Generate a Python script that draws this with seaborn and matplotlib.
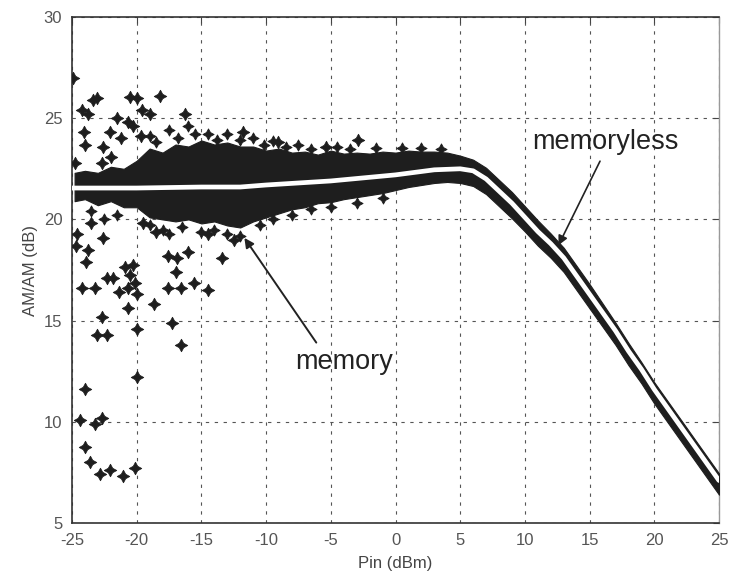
import matplotlib
matplotlib.use("Agg")
import matplotlib.pyplot as plt
import seaborn as sns
import pandas as pd

# ---------------- data ----------------
x_ticks = [-25, -20, -15, -10, -5, 0, 5, 10, 15, 20, 25]
y_ticks = [5, 10, 15, 20, 25, 30]

# memoryless model curve (white line)
ml_pin = [-25, -20, -15, -12, -10, -5, 0, 3, 5, 6, 7, 8, 9, 10, 11, 12, 13, 14,
          15, 16, 17, 18, 19, 20, 21, 22, 23, 24, 25]
ml_gain = [21.55, 21.55, 21.6, 21.6, 21.7, 21.9, 22.2, 22.45, 22.5, 22.4, 22.0,
           21.4, 20.8, 20.1, 19.4, 18.8, 18.1, 17.2, 16.3, 15.4, 14.5, 13.5,
           12.6, 11.6, 10.7, 9.8, 8.9, 8.0, 7.1]

# dense cloud of memory samples: upper / lower envelope
band_pin = [-24.8, -24, -23, -22, -21, -20, -19, -18, -17, -16, -15, -14, -13,
            -12, -11, -10, -9, -8, -7, -6, -5, -4, -3, -2, -1, 0, 1, 2, 3, 4,
            5, 6, 7, 8, 9, 10, 11, 12, 13, 14, 15, 16, 17, 18, 19, 20, 21, 22,
            23, 24, 25]
band_upper = [22.3, 22.4, 22.3, 22.6, 22.5, 22.9, 23.5, 23.3, 23.7, 23.6, 23.9,
              23.7, 23.8, 23.6, 23.6, 23.4, 23.5, 23.3, 23.35, 23.2, 23.4,
              23.25, 23.3, 23.25, 23.35, 23.3, 23.4, 23.35, 23.35, 23.3, 23.15,
              22.95, 22.55, 21.95, 21.35, 20.65, 19.95, 19.3, 18.6, 17.7, 16.8,
              15.85, 14.9, 13.9, 12.95, 11.95, 11.05, 10.15, 9.25, 8.35, 7.45]
band_lower = [20.9, 21.0, 20.7, 20.9, 20.6, 20.6, 20.1, 20.0, 19.9, 20.0, 19.8,
              19.9, 19.7, 19.6, 19.9, 20.1, 20.3, 20.5, 20.6, 20.8, 20.85, 21.0,
              21.1, 21.2, 21.3, 21.45, 21.6, 21.7, 21.8, 21.85, 21.8, 21.65,
              21.25, 20.65, 20.05, 19.4, 18.7, 18.1, 17.4, 16.5, 15.6, 14.7,
              13.8, 12.8, 11.9, 10.9, 10.0, 9.1, 8.2, 7.3, 6.4]

# scattered memory samples (outliers)
out_pin = [-24.9, -23.4, -23.1, -20.5, -20.0, -18.2, -24.2, -23.8, -21.5,
           -20.7, -19.6, -19.0, -16.3, -24.1, -24.0, -22.1, -22.6, -24.8,
           -22.0, -22.7, -21.2, -20.3, -19.7,
           -24.6, -24.7, -23.8, -23.9, -23.5, -22.6, -24.2, -23.2, -22.3,
           -21.8, -21.4, -20.7, -22.7, -23.1, -22.3, -20.7, -20.0, -20.9,
           -20.3, -20.5, -20.1, -20.0, -20.0, -24.0, -24.4, -22.7, -23.2,
           -24.0, -23.6, -22.8, -22.1, -21.05, -20.1, -18.7, -17.6, -16.6,
           -15.6, -14.5, -17.0, -17.3, -16.6, -13.4, -17.6, -16.9, -16.0,
           -11.8, -9.1, -5.4, -2.9, -14.5, -12.5, -18.5, -19.5]
out_gain = [27.0, 25.9, 26.0, 26.05, 26.0, 26.1, 25.4, 25.2, 25.0, 24.8, 25.4,
            25.2, 25.2, 24.3, 23.7, 24.3, 23.6, 22.8, 23.1, 22.8, 24.0, 24.6,
            24.1,
            19.3, 18.7, 18.5, 17.9, 19.8, 19.1, 16.6, 16.6, 17.1, 17.1, 16.4,
            16.6, 15.2, 14.3, 14.3, 15.6, 14.6, 17.65, 17.75, 17.25, 16.85,
            16.3, 12.2, 11.6, 10.1, 10.2, 9.9, 8.75, 8.0, 7.4, 7.6, 7.3, 7.7,
            15.8, 16.6, 16.6, 16.85, 16.5, 17.4, 14.9, 13.8, 18.1, 18.2, 18.1,
            18.4, 24.3, 23.8, 23.6, 23.9, 19.3, 19.0, 19.4, 19.8]

# memory samples sitting on the rough edges of the dense cloud
edge_pin = [-19.0, -18.5, -17.5, -16.8, -16.0, -15.5, -14.5, -13.8, -13.0,
            -12.0, -11.0, -10.2, -9.5, -8.5, -7.5, -6.5, -4.5, -3.5, -1.5,
            0.5, 2.0, 3.5,
            -19.0, -18.0, -17.5, -16.5, -15.0, -14.0, -13.0, -12.0, -10.5,
            -9.5, -8.0, -6.5, -5.0, -3.0, -1.0, -21.5, -22.5, -23.5]
edge_gain = [24.1, 23.8, 24.4, 24.0, 24.6, 24.2, 24.2, 23.9, 24.2, 23.9, 24.0,
             23.7, 23.85, 23.6, 23.7, 23.5, 23.6, 23.5, 23.55, 23.55, 23.55,
             23.5,
             19.7, 19.5, 19.3, 19.6, 19.4, 19.5, 19.3, 19.2, 19.7, 20.0, 20.2,
             20.5, 20.6, 20.8, 21.05, 20.2, 20.0, 20.4]

# ---------------- figure ----------------
sns.set_style("white")
plt.rcParams["font.family"] = ["Liberation Sans", "DejaVu Sans"]

fig = plt.figure(figsize=(7.33, 5.79), dpi=100)
ax = fig.add_axes([72 / 733, 56 / 579, 647 / 733, 506 / 579])

ink = "#1e1e1e"

ax.fill_between(band_pin, band_lower, band_upper, color=ink, linewidth=0.8,
                edgecolor=ink, zorder=3)

edge_df = pd.DataFrame({"Pin": edge_pin, "Gain": edge_gain})
sns.scatterplot(data=edge_df, x="Pin", y="Gain", ax=ax, marker=(4, 1, 0),
                s=65, color=ink, edgecolor=ink, linewidth=0.6, zorder=4)

out_df = pd.DataFrame({"Pin": out_pin, "Gain": out_gain})
sns.scatterplot(data=out_df, x="Pin", y="Gain", ax=ax, marker=(4, 1, 0),
                s=80, color=ink, edgecolor=ink, linewidth=0.6, zorder=4)

ml_df = pd.DataFrame({"Pin": ml_pin, "Gain": ml_gain})
sns.lineplot(data=ml_df, x="Pin", y="Gain", ax=ax, color="white",
             linewidth=3.4, zorder=5)

ax.set_xlim(-25, 25)
ax.set_ylim(5, 30)
ax.set_xticks(x_ticks)
ax.set_yticks(y_ticks)
ax.set_xticklabels([str(v) for v in x_ticks])
ax.set_yticklabels([str(v) for v in y_ticks])
ax.tick_params(direction="in", length=4, width=0.8, colors="#444",
               labelcolor="#555", labelsize=12, top=True, right=True,
               pad=7)

ax.grid(True, color="#555", linestyle=(0, (3, 5)), linewidth=0.8)
ax.set_axisbelow(True)
for side in ["left", "bottom", "top"]:
    ax.spines[side].set_color("#333")
    ax.spines[side].set_linewidth(1.2)
ax.spines["right"].set_color("#999")
ax.spines["right"].set_linewidth(1.0)

ax.set_xlabel("Pin (dBm)", fontsize=12, color="#444", labelpad=6)
ax.set_ylabel("AM/AM (dB)", fontsize=12, color="#444", labelpad=4)

ax.text(-4.0, 12.95, "memory", fontsize=19.5, color="#222",
        ha="center", va="center", zorder=6)
ax.annotate("", xy=(-11.8, 19.2), xytext=(-6.0, 13.8),
            arrowprops=dict(arrowstyle="-|>", color="#222", lw=1.4,
                            mutation_scale=14), zorder=6)
ax.text(16.2, 23.8, "memoryless", fontsize=19.5, color="#222",
        ha="center", va="center", zorder=6)
ax.annotate("", xy=(12.5, 18.6), xytext=(15.9, 23.0),
            arrowprops=dict(arrowstyle="-|>", color="#222", lw=1.2,
                            mutation_scale=14), zorder=6)

fig.savefig("out.png", dpi=100)
